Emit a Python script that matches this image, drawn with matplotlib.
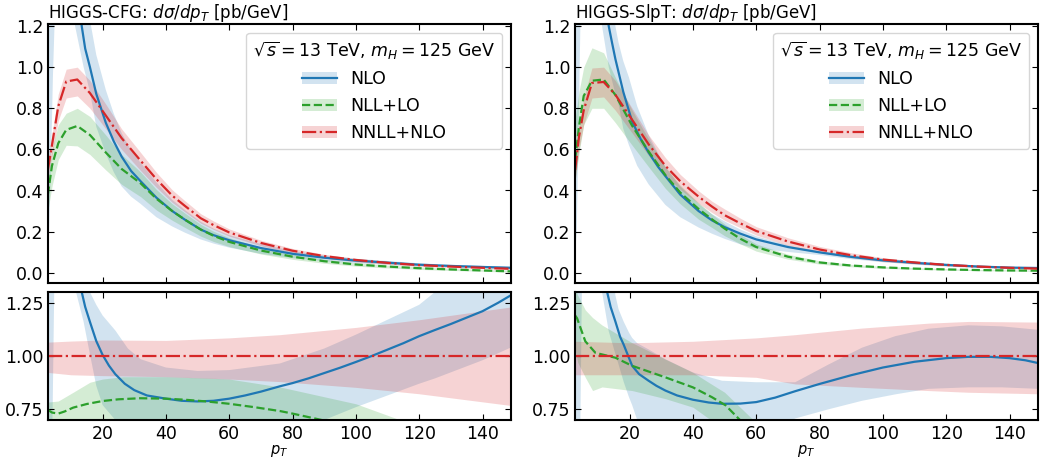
import numpy as np
import matplotlib
matplotlib.use("Agg")
import matplotlib.pyplot as plt
from matplotlib.patches import Patch
from matplotlib.lines import Line2D

# ---------------- HIGGS-CFG, top panel ----------------
cfg_pt = [2.7, 4, 6, 8.5, 12, 16, 21, 26, 32, 37, 42, 46, 51, 55, 60, 70, 80, 90, 100, 110, 120, 130, 140, 149]
cfg_nnll = [0.50, 0.62, 0.81, 0.93, 0.94, 0.874, 0.765, 0.655, 0.545, 0.455, 0.375, 0.325, 0.265, 0.232, 0.196,
            0.145, 0.107, 0.081, 0.062, 0.048, 0.037, 0.030, 0.024, 0.019]
cfg_nnll_lo = [0.46, 0.57, 0.74, 0.85, 0.86, 0.80, 0.70, 0.60, 0.497, 0.415, 0.342, 0.296, 0.241, 0.211, 0.178,
               0.131, 0.095, 0.071, 0.053, 0.040, 0.030, 0.024, 0.019, 0.0145]
cfg_nnll_hi = [0.54, 0.67, 0.87, 0.99, 1.0, 0.935, 0.82, 0.70, 0.585, 0.488, 0.403, 0.35, 0.287, 0.252, 0.213,
               0.158, 0.118, 0.09, 0.07, 0.055, 0.043, 0.036, 0.029, 0.023]
cfg_nll = [0.38, 0.52, 0.63, 0.695, 0.714, 0.67, 0.585, 0.505, 0.435, 0.36, 0.30, 0.258, 0.21, 0.18, 0.150,
           0.108, 0.078, 0.056, 0.040, 0.030, 0.022, 0.016, 0.011, 0.0065]
cfg_nll_lo = [0.30, 0.42, 0.55, 0.62, 0.617, 0.575, 0.50, 0.43, 0.37, 0.305, 0.255, 0.22, 0.178, 0.152, 0.127,
              0.091, 0.065, 0.046, 0.032, 0.023, 0.016, 0.011, 0.007, 0.003]
cfg_nll_hi = [0.45, 0.60, 0.72, 0.776, 0.80, 0.76, 0.67, 0.575, 0.49, 0.405, 0.335, 0.29, 0.235, 0.202, 0.170,
              0.123, 0.09, 0.066, 0.048, 0.037, 0.028, 0.021, 0.016, 0.012]
cfg_nlo_pt = [12.5, 13.4, 14.5, 16, 18, 21, 23.5, 26, 29, 32, 37, 42, 46, 51, 55, 60, 70, 80, 90, 100, 110, 120, 130, 140, 149]
cfg_nlo = [1.40, 1.2, 1.09, 1.0, 0.87, 0.73, 0.64, 0.565, 0.495, 0.445, 0.365, 0.30, 0.258, 0.21, 0.183, 0.158,
           0.12, 0.092, 0.073, 0.059, 0.049, 0.039, 0.033, 0.028, 0.024]
cfg_nlo_bpt = [2.7, 3.2, 3.8, 4.3, 4.9, 8, 11.3, 14, 16, 18, 21, 23.5, 26, 29, 32, 37, 42, 46, 51, 55, 60, 70, 80,
               90, 100, 110, 120, 130, 140, 149]
cfg_nlo_lo = [0.02, 0.25, 0.6, 0.95, 1.25, 2.0, 1.2, 1.0, 0.88, 0.71, 0.58, 0.49, 0.42, 0.37, 0.335, 0.27, 0.225,
              0.195, 0.162, 0.142, 0.122, 0.092, 0.071, 0.056, 0.046, 0.039, 0.032, 0.028, 0.024, 0.02]
cfg_nlo_hi = [3, 3, 3, 3, 3, 3, 3, 2.0, 1.23, 1.06, 0.89, 0.775, 0.68, 0.595, 0.535, 0.44, 0.355, 0.305, 0.248,
              0.215, 0.183, 0.14, 0.106, 0.084, 0.068, 0.057, 0.046, 0.038, 0.033, 0.029]

# ---------------- HIGGS-CFG, ratio panel ----------------
rcfg_nlo_pt = [12.5, 13.4, 14.5, 16, 18, 20, 22, 24, 27, 30, 34, 40, 45, 50, 55, 60, 65, 70, 76, 80, 85, 90, 95,
               100, 105, 110, 115, 120, 125, 130, 135, 140, 145, 149]
rcfg_nlo = [1.5, 1.30, 1.23, 1.16, 1.07, 1.005, 0.955, 0.915, 0.87, 0.84, 0.815, 0.80, 0.79, 0.787, 0.79, 0.80,
            0.815, 0.833, 0.858, 0.873, 0.895, 0.92, 0.945, 0.972, 1.0, 1.03, 1.06, 1.093, 1.122, 1.15, 1.18,
            1.21, 1.25, 1.285]
rcfg_nlo_bpt = [2.7, 3.3, 4.0, 4.8, 8, 11.6, 14, 16, 18, 20, 24, 28, 32, 40, 50, 60, 76, 90, 100, 110, 120, 125, 140, 149]
rcfg_nlo_lo = [0.5, 0.5, 0.5, 1.4, 2.0, 1.3, 1.16, 1.008, 0.86, 0.77, 0.70, 0.65, 0.62, 0.6, 0.6, 0.62, 0.66, 0.70,
               0.76, 0.815, 0.87, 0.895, 0.98, 1.04]
rcfg_nlo_hi = [3, 3, 3, 3, 3, 3, 1.5, 1.30, 1.24, 1.19, 1.12, 1.035, 0.985, 0.946, 0.93, 0.934, 0.965, 1.035, 1.10,
               1.17, 1.24, 1.30, 1.45, 1.55]
rcfg_nnll_bpt = [2.7, 10, 20, 40, 60, 76, 100, 120, 149]
rcfg_nnll_lo = [0.923, 0.912, 0.908, 0.903, 0.892, 0.88, 0.853, 0.823, 0.768]
rcfg_nnll_hi = [1.065, 1.07, 1.075, 1.073, 1.085, 1.10, 1.134, 1.17, 1.23]
rcfg_nll_pt = [2.7, 4, 6, 8, 10.7, 15, 20, 25, 31.8, 40, 46, 52.8, 60, 68, 76, 80, 88.6, 95]
rcfg_nll = [0.748, 0.735, 0.73, 0.74, 0.758, 0.775, 0.789, 0.797, 0.802, 0.80, 0.795, 0.787, 0.776, 0.76, 0.742,
            0.73, 0.702, 0.68]
rcfg_nll_bpt = [2.7, 6, 10.7, 16, 20, 26.5, 40, 52.8, 60, 76, 100, 112.8, 120, 149]
rcfg_nll_lo = [0.62, 0.6, 0.6, 0.6, 0.6, 0.6, 0.6, 0.6, 0.6, 0.58, 0.55, 0.5, 0.5, 0.45]
rcfg_nll_hi = [0.784, 0.789, 0.83, 0.877, 0.892, 0.903, 0.903, 0.897, 0.892, 0.855, 0.776, 0.707, 0.67, 0.55]

# ---------------- HIGGS-SlpT, top panel ----------------
slp_pt = [2.8, 4, 5.5, 8.1, 11.8, 15.5, 20.8, 26, 31.3, 36, 41.8, 46, 50, 55, 60, 70, 80, 90, 100, 110, 120, 130, 140, 149]
slp_nnll = [0.50, 0.66, 0.79, 0.923, 0.928, 0.866, 0.744, 0.625, 0.52, 0.445, 0.37, 0.322, 0.28, 0.24, 0.203,
            0.152, 0.113, 0.085, 0.064, 0.05, 0.038, 0.030, 0.024, 0.02]
slp_nnll_lo = [0.45, 0.60, 0.72, 0.85, 0.855, 0.79, 0.68, 0.57, 0.474, 0.405, 0.337, 0.293, 0.255, 0.219, 0.183,
               0.133, 0.098, 0.073, 0.054, 0.042, 0.032, 0.025, 0.02, 0.0165]
slp_nnll_hi = [0.54, 0.71, 0.85, 0.996, 1.0, 0.935, 0.80, 0.67, 0.56, 0.478, 0.398, 0.348, 0.31, 0.265, 0.224,
               0.17, 0.128, 0.097, 0.073, 0.057, 0.044, 0.035, 0.028, 0.023]
slp_nll = [0.55, 0.71, 0.86, 0.934, 0.94, 0.865, 0.715, 0.59, 0.475, 0.39, 0.31, 0.26, 0.215, 0.165, 0.125,
           0.078, 0.05, 0.035, 0.026, 0.02, 0.016, 0.013, 0.011, 0.01]
slp_nll_lo = [0.45, 0.58, 0.72, 0.80, 0.80, 0.73, 0.62, 0.515, 0.41, 0.335, 0.26, 0.22, 0.18, 0.14, 0.105,
              0.066, 0.042, 0.029, 0.021, 0.016, 0.013, 0.010, 0.008, 0.007]
slp_nll_hi = [0.75, 0.88, 1.0, 1.094, 1.07, 0.95, 0.79, 0.65, 0.515, 0.425, 0.34, 0.285, 0.237, 0.185, 0.14,
              0.09, 0.058, 0.041, 0.031, 0.025, 0.02, 0.016, 0.014, 0.013]
slp_nlo_pt = [12.3, 13.4, 14.5, 15.5, 18, 20.8, 23.5, 26, 29, 31.3, 36, 41.8, 46, 50, 55, 60, 70, 80, 90, 100,
              110, 120, 130, 140, 149]
slp_nlo = [1.40, 1.2, 1.115, 1.04, 0.88, 0.735, 0.65, 0.585, 0.515, 0.47, 0.38, 0.30, 0.255, 0.222, 0.19, 0.162,
           0.125, 0.099, 0.077, 0.06, 0.048, 0.038, 0.030, 0.025, 0.023]
slp_nlo_bpt = [2.8, 3.3, 3.9, 4.5, 5, 8, 11.3, 13.4, 15.5, 16.5, 18, 19.8, 22.4, 26, 31.3, 36, 41.8, 46, 50, 55,
               60, 72, 80, 90, 100, 110, 120, 130, 140, 149]
slp_nlo_lo = [0.1, 0.2, 0.7, 1.25, 1.4, 2.0, 1.2, 1.0, 0.87, 0.82, 0.7, 0.62, 0.52, 0.43, 0.33, 0.27, 0.22, 0.19,
              0.165, 0.138, 0.118, 0.098, 0.086, 0.066, 0.051, 0.041, 0.032, 0.026, 0.021, 0.017]
slp_nlo_hi = [3, 3, 3, 3, 3, 3, 3, 2.0, 1.2, 1.12, 1.03, 0.95, 0.81, 0.67, 0.515, 0.42, 0.335, 0.285, 0.25, 0.21,
              0.178, 0.125, 0.105, 0.085, 0.068, 0.056, 0.044, 0.035, 0.028, 0.025]

# ---------------- HIGGS-SlpT, ratio panel ----------------
rslp_nlo_pt = [12, 12.9, 14, 15.5, 17, 18.1, 20.8, 23, 26, 28.5, 31.3, 35, 40, 45, 49.2, 55, 60, 66, 72.3, 80,
               90, 100, 110, 120, 127, 134, 140, 145, 149]
rslp_nlo = [1.5, 1.30, 1.23, 1.162, 1.09, 1.054, 0.954, 0.915, 0.884, 0.86, 0.838, 0.815, 0.795, 0.782, 0.776,
            0.777, 0.784, 0.805, 0.835, 0.869, 0.91, 0.946, 0.973, 0.99, 0.996, 0.996, 0.99, 0.98, 0.967]
rslp_nlo_bpt = [2.8, 3.5, 4.3, 5, 8, 11.3, 13.4, 15.5, 16.5, 18.1, 19.8, 20.8, 22.4, 26, 31.3, 40, 49.2, 60, 72.3,
                82.8, 93.4, 103.9, 114.4, 127, 137.6, 149]
rslp_nlo_lo = [0.5, 0.5, 0.5, 1.4, 2.0, 1.3, 1.116, 1.01, 0.961, 0.88, 0.807, 0.77, 0.70, 0.62, 0.55, 0.5, 0.5,
               0.62, 0.707, 0.75, 0.79, 0.82, 0.846, 0.853, 0.853, 0.846]
rslp_nlo_hi = [3, 3, 3, 3, 3, 3, 1.6, 1.285, 1.22, 1.162, 1.11, 1.085, 1.06, 1.031, 0.985, 0.923, 0.884, 0.877,
               0.877, 0.96, 1.039, 1.093, 1.128, 1.144, 1.139, 1.123]
rslp_nnll_bpt = [2.8, 20, 40, 60, 72.3, 93.4, 114.4, 127, 149]
rslp_nnll_lo = [0.912, 0.912, 0.912, 0.90, 0.869, 0.853, 0.838, 0.83, 0.823]
rslp_nnll_hi = [1.069, 1.062, 1.069, 1.085, 1.10, 1.131, 1.154, 1.162, 1.159]
rslp_nll_pt = [2.8, 3.4, 6, 9.2, 15.5, 20.8, 31.3, 40, 46, 50.3, 54.4, 58]
rslp_nll = [1.19, 1.177, 1.069, 1.015, 0.992, 0.954, 0.90, 0.853, 0.807, 0.769, 0.707, 0.65]
rslp_nll_bpt = [2.8, 3.6, 6, 8.3, 11.3, 20.8, 31.3, 40, 45, 50, 58.6, 65]
rslp_nll_lo = [1.03, 0.97, 0.90, 0.838, 0.855, 0.838, 0.80, 0.76, 0.707, 0.65, 0.6, 0.55]
rslp_nll_hi = [1.32, 1.285, 1.216, 1.18, 1.145, 1.062, 0.985, 0.923, 0.876, 0.83, 0.707, 0.6]

titles = [r"HIGGS-CFG: $d\sigma/dp_T$ [pb/GeV]", r"HIGGS-SlpT: $d\sigma/dp_T$ [pb/GeV]"]
labels = ["NLO", "NLL+LO", "NNLL+NLO"]
legend_title = r"$\sqrt{s}=13$ TeV, $m_H=125$ GeV"

blue, green, red = "#1f77b4", "#2ca02c", "#d62728"
styles = {"NLO": (blue, "-"), "NLL+LO": (green, "--"), "NNLL+NLO": (red, "-.")}

plt.rcParams.update({
    "font.size": 12.5,
    "xtick.direction": "in", "ytick.direction": "in",
    "xtick.top": True, "ytick.right": True,
    "xtick.major.size": 4.5, "ytick.major.size": 4.5,
    "axes.linewidth": 1.5,
})

fig = plt.figure(figsize=(10.41, 4.59), dpi=100)

panels = [
    dict(top=[(cfg_nlo_bpt, cfg_nlo_lo, cfg_nlo_hi, cfg_nlo_pt, cfg_nlo, "NLO"),
              (cfg_pt, cfg_nll_lo, cfg_nll_hi, cfg_pt, cfg_nll, "NLL+LO"),
              (cfg_pt, cfg_nnll_lo, cfg_nnll_hi, cfg_pt, cfg_nnll, "NNLL+NLO")],
         bot=[(rcfg_nlo_bpt, rcfg_nlo_lo, rcfg_nlo_hi, rcfg_nlo_pt, rcfg_nlo, "NLO"),
              (rcfg_nll_bpt, rcfg_nll_lo, rcfg_nll_hi, rcfg_nll_pt, rcfg_nll, "NLL+LO"),
              (rcfg_nnll_bpt, rcfg_nnll_lo, rcfg_nnll_hi, cfg_pt,
               np.divide(cfg_nnll, cfg_nnll), "NNLL+NLO")]),
    dict(top=[(slp_nlo_bpt, slp_nlo_lo, slp_nlo_hi, slp_nlo_pt, slp_nlo, "NLO"),
              (slp_pt, slp_nll_lo, slp_nll_hi, slp_pt, slp_nll, "NLL+LO"),
              (slp_pt, slp_nnll_lo, slp_nnll_hi, slp_pt, slp_nnll, "NNLL+NLO")],
         bot=[(rslp_nlo_bpt, rslp_nlo_lo, rslp_nlo_hi, rslp_nlo_pt, rslp_nlo, "NLO"),
              (rslp_nll_bpt, rslp_nll_lo, rslp_nll_hi, rslp_nll_pt, rslp_nll, "NLL+LO"),
              (rslp_nnll_bpt, rslp_nnll_lo, rslp_nnll_hi, slp_pt,
               np.divide(slp_nnll, slp_nnll), "NNLL+NLO")]),
]

lefts = [48 / 1041, 575 / 1041]
w = 463 / 1041
for i, p in enumerate(panels):
    ax = fig.add_axes([lefts[i], 1 - 283 / 459, w, 259 / 459])
    axr = fig.add_axes([lefts[i], 1 - 420 / 459, w, 128 / 459])

    for bx, lo, hi, x, y, lab in p["top"]:
        c, ls = styles[lab]
        ax.fill_between(bx, lo, hi, color=c, alpha=0.2, lw=0)
        ax.plot(x, y, color=c, ls=ls, lw=1.6)
    for bx, lo, hi, x, y, lab in p["bot"]:
        c, ls = styles[lab]
        axr.fill_between(bx, lo, hi, color=c, alpha=0.2, lw=0)
        axr.plot(x, y, color=c, ls=ls, lw=1.6)

    ax.set_xlim(2.75, 149)
    ax.set_ylim(-0.05, 1.21)
    ax.set_yticks([0.0, 0.2, 0.4, 0.6, 0.8, 1.0, 1.2])
    ax.set_xticks([20, 40, 60, 80, 100, 120, 140])
    ax.set_xticklabels([])
    ax.set_title(titles[i], loc="left", fontsize=12, pad=3)

    axr.set_xlim(2.75, 149)
    axr.set_ylim(0.7, 1.3)
    axr.set_yticks([0.75, 1.0, 1.25])
    axr.set_xticks([20, 40, 60, 80, 100, 120, 140])
    axr.set_xlabel(r"$p_T$", fontsize=10.5, labelpad=0)

    handles = [(Patch(facecolor=styles[l][0], alpha=0.2, lw=0),
                Line2D([0], [0], color=styles[l][0], ls=styles[l][1], lw=1.6)) for l in labels]
    ax.legend(handles, labels, title=legend_title, loc="upper right",
              fontsize=12.5, title_fontsize=12.5)

fig.savefig("out.png", dpi=100)
